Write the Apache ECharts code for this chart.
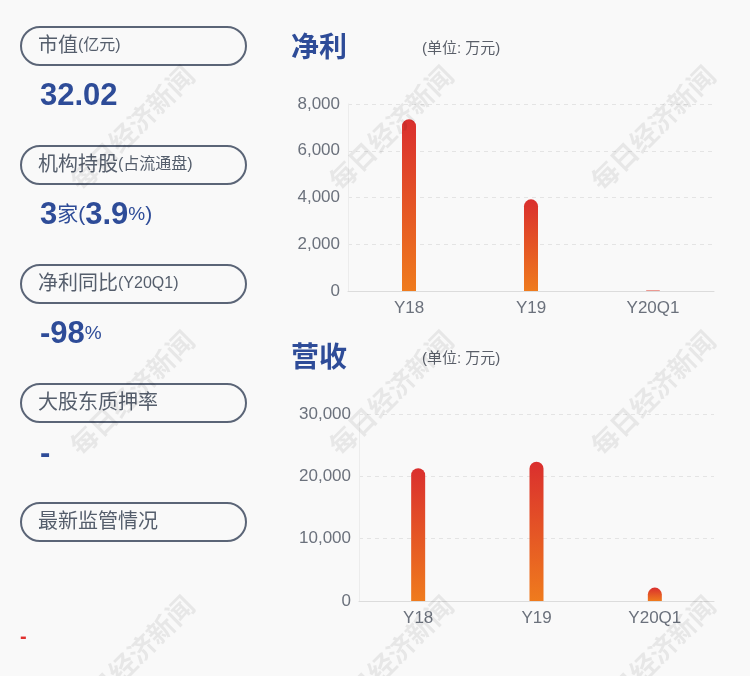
<!DOCTYPE html>
<html><head><meta charset="utf-8">
<script src="https://cdn.jsdelivr.net/npm/echarts@6/dist/echarts.min.js"></script>
<style>html,body{margin:0;padding:0;background:#f9f9f9;}#c{width:750px;height:676px;}</style>
</head><body><div id="c"></div>
<script>
const categories = ['Y18', 'Y19', 'Y20Q1'];
const profitValues = [7350, 3920, 25];
const revenueValues = [21300, 22350, 2150];
const profitTicks = [0, 2000, 4000, 6000, 8000];
const revenueTicks = [0, 10000, 20000, 30000];
const panelLabels = [['市值', '(亿元)'], ['机构持股', '(占流通盘)'], ['净利同比', '(Y20Q1)'], ['大股东质押率', ''], ['最新监管情况', '']];

const FONT = '"Liberation Sans","Noto Sans CJK SC",sans-serif';
const BLUE = '#2e4c98';
const GRAY = '#555e6c';

const barGrad = new echarts.graphic.LinearGradient(0, 0, 0, 1, [
  {offset: 0, color: '#da2f2e'}, {offset: 1, color: '#ef7b1d'}
]);

const graphics = [];
// watermarks
[130, 395, 660].forEach(y => [134, 393, 655].forEach(x => {
  graphics.push({type: 'text', x: x, y: y, rotation: Math.PI / 4, silent: true, z: 100,
    style: {text: '每日经济新闻', font: 'bold 27px ' + FONT, fill: 'rgba(0,0,0,0.07)', textAlign: 'center', textVerticalAlign: 'middle'}});
}));
// pills
panelLabels.forEach((lab, i) => {
  const top = 27 + i * 119;
  graphics.push({type: 'rect', shape: {x: 21, y: top, width: 225, height: 38, r: 19},
    style: {fill: 'none', stroke: '#5b6577', lineWidth: 2}});
  graphics.push({type: 'text', x: 38, y: top + 19,
    style: {text: '{a|' + lab[0] + '}' + (lab[1] ? '{b|' + lab[1] + '}' : ''), textVerticalAlign: 'middle',
      rich: {a: {fontSize: 20, fontFamily: FONT, fill: GRAY},
             b: {fontSize: 16, fontFamily: FONT, fill: GRAY}}}});
});
const rich = {
  n: {fontSize: 31, fontWeight: 'bold', fontFamily: FONT, fill: BLUE},
  s: {fontSize: 21, fontFamily: FONT, fill: BLUE},
  p: {fontSize: 19, fontFamily: FONT, fill: BLUE}
};
graphics.push({type: 'text', x: 40, y: 96, style: {text: '{n|32.02}', rich: rich, textVerticalAlign: 'middle'}});
graphics.push({type: 'text', x: 40, y: 215, style: {text: '{n|3}{s|家(}{n|3.9}{p|%}{s|)}', rich: rich, textVerticalAlign: 'middle'}});
graphics.push({type: 'text', x: 40, y: 334, style: {text: '{n|-98}{p|%}', rich: rich, textVerticalAlign: 'middle'}});
graphics.push({type: 'text', x: 40, y: 454, style: {text: '{n|-}', rich: rich, textVerticalAlign: 'middle'}});
graphics.push({type: 'text', x: 20, y: 637, style: {text: '-', font: 'bold 20px ' + FONT, fill: '#e0302e', textVerticalAlign: 'middle'}});
// titles
[[49, '净利'], [359, '营收']].forEach(([y, t]) => {
  graphics.push({type: 'text', x: 291, y: y, style: {text: t, font: 'bold 28px ' + FONT, fill: BLUE, textVerticalAlign: 'middle'}});
  graphics.push({type: 'text', x: 422, y: y, style: {text: '(单位: 万元)', font: '15px ' + FONT, fill: '#5a5f69', textVerticalAlign: 'middle'}});
});

function yAxis(idx, ticks) {
  return {type: 'value', gridIndex: idx, min: ticks[0], max: ticks[ticks.length - 1], interval: ticks[1] - ticks[0],
    axisLine: {show: true, lineStyle: {color: '#ececec'}}, axisTick: {show: false},
    axisLabel: {color: '#6b717c', fontSize: 17, fontFamily: FONT, margin: 8, formatter: v => v.toLocaleString('en-US')},
    splitLine: {lineStyle: {color: '#e4e4e4', type: [4, 4]}}};
}
function xAxis(idx) {
  return {type: 'category', gridIndex: idx, data: categories,
    axisLine: {lineStyle: {color: '#dcdcdc'}}, axisTick: {show: false},
    axisLabel: {color: '#6b717c', fontSize: 17, fontFamily: FONT, margin: 9}};
}
const option = {
  backgroundColor: '#f9f9f9',
  animation: false,
  grid: [
    {left: 348, top: 104, width: 366, height: 187},
    {left: 359, top: 414, width: 355, height: 187}
  ],
  xAxis: [xAxis(0), xAxis(1)],
  yAxis: [yAxis(0, profitTicks), yAxis(1, revenueTicks)],
  series: [
    {type: 'bar', xAxisIndex: 0, yAxisIndex: 0, data: profitValues, barWidth: 14,
      itemStyle: {color: barGrad, borderRadius: [7, 7, 0, 0]}},
    {type: 'bar', xAxisIndex: 1, yAxisIndex: 1, data: revenueValues, barWidth: 14,
      itemStyle: {color: barGrad, borderRadius: [7, 7, 0, 0]}}
  ],
  graphic: graphics
};
const chart = echarts.init(document.getElementById('c'));
chart.setOption(option);
</script></body></html>
